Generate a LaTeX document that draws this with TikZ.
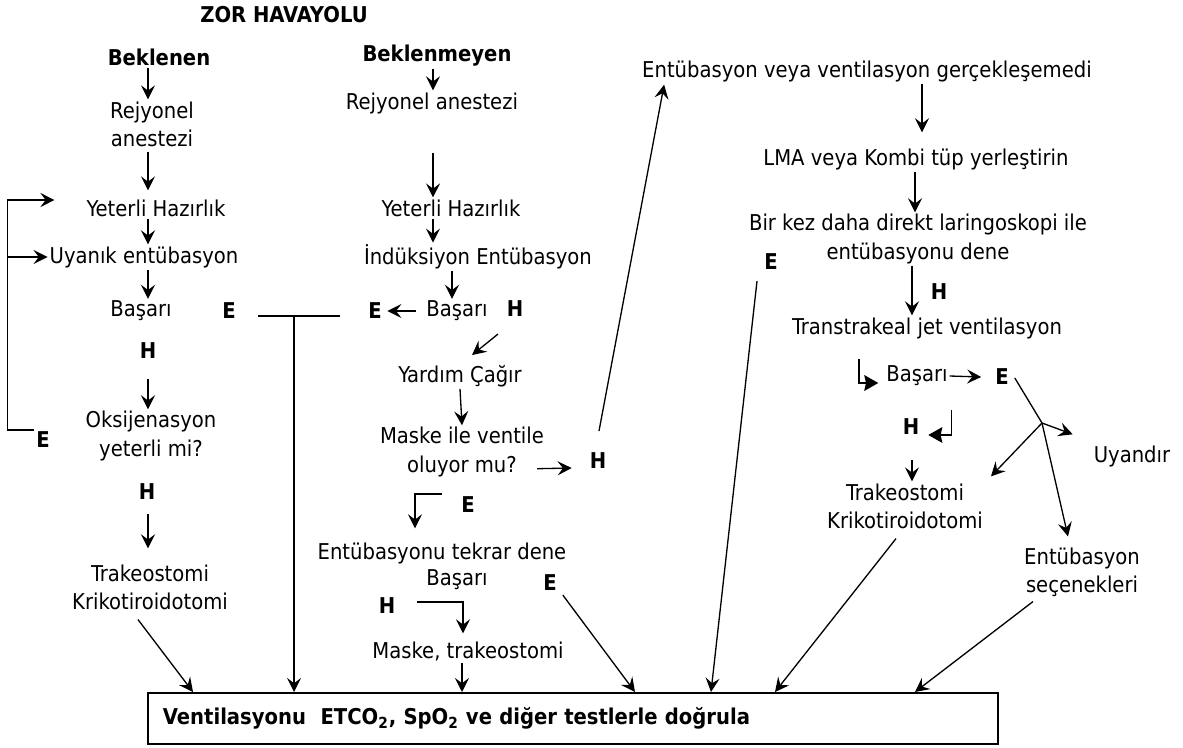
\documentclass[tikz,border=0pt]{standalone}
\usepackage{fontspec}
\setmainfont{DejaVu Sans Condensed}
\usetikzlibrary{arrows.meta, calc}

\begin{document}
\begin{tikzpicture}[
  x=0.02cm, y=-0.02cm,
  every node/.style={font=\fontsize{12.4}{16}\selectfont, inner sep=1pt},
  txt/.style={align=center},
  yn/.style={font=\fontsize{12.4}{16}\selectfont\bfseries},
  arr/.style={-{Stealth[length=8pt, width=8pt, inset=3pt]}, line width=0.75pt},
  arrbig/.style={-{Stealth[length=8pt, width=9pt, inset=1pt]}, line width=0.8pt},
  lin/.style={line width=0.75pt}
]
\useasboundingbox (0,0) rectangle (1183,747);

%% ---- COLUMNS (x of the vertical arrows) ------------------------
\coordinate (colA) at (148,0);
\coordinate (colB) at (433,0);
\coordinate (colC) at (452,0);
\coordinate (colD) at (462,0);
\coordinate (colE) at (922,0);
\coordinate (colF) at (915,0);
\coordinate (colG) at (912,0);

%% ---- HEADINGS ---------------------------------------------------
\node[yn] (title) at (284,15) {ZOR HAVAYOLU};
\node[yn] (bek)   at (159,57) {Beklenen};
\node[yn] (bekm)  at (437,56) {Beklenmeyen};

%% ---- BEKLENEN ---------------------------------------------------
\node[txt] (rejA)  at (152,124) {Rejyonel\\anestezi};
\node      (yetA)  at (156,208) {Yeterli Hazırlık};
\node      (uyan)  at (144,257) {Uyanık entübasyon};
\node      (basA)  at (141,311) {Başarı};
\node[yn]  (eA)    at (229,311) {E};
\node[yn]  (hA)    at (148,351) {H};
\node[txt] (oksi)  at (151,436) {Oksijenasyon\\yeterli mi?};
\node[yn]  (eLoop) at (43,440)  {E};
\node[yn]  (hA2)   at (147,492) {H};
\node[txt] (trakA) at (150,587) {Trakeostomi\\Krikotiroidotomi};

%% ---- BEKLENMEYEN ------------------------------------------------
\node[txt] (rejB)  at (432,103) {Rejyonel anestezi};
\node      (yetB)  at (451,208) {Yeterli Hazırlık};
\node      (indk)  at (478,257) {İndüksiyon Entübasyon};
\node      (basB)  at (457,311) {Başarı};
\node[yn]  (eB)    at (375,311) {E};
\node[yn]  (hB)    at (515,309) {H};
\node      (yard)  at (460,376) {Yardım Çağır};
\node[txt] (maske) at (462,452) {Maske ile ventile\\oluyor mu?};
\node[yn]  (hC)    at (598,461) {H};
\node[yn]  (eC)    at (468,505) {E};
\node      (tekr)  at (442,553) {Entübasyonu tekrar dene};
\node      (basC)  at (457,580) {Başarı};
\node[yn]  (eD)    at (550,583) {E};
\node[yn]  (hD)    at (387,606) {H};
\node      (mtrak) at (468,651) {Maske, trakeostomi};

%% ---- RIGHT BRANCH -----------------------------------------------
\node      (ent)   at (867,71)  {Entübasyon veya ventilasyon gerçekleşemedi};
\node      (lma)   at (916,159) {LMA veya Kombi tüp yerleştirin};
\node[txt] (bir)   at (918,239) {Bir kez daha direkt laringoskopi ile\\entübasyonu dene};
\node[yn]  (eE)    at (771,262) {E};
\node[yn]  (hE)    at (939,292) {H};
\node      (trans) at (927,328) {Transtrakeal jet ventilasyon};
\node      (basD)  at (917,376) {Başarı};
\node[yn]  (eF)    at (1002,377) {E};
\node[yn]  (hF)    at (911,427) {H};
\node[txt] (trakB) at (905,506) {Trakeostomi\\Krikotiroidotomi};
\node      (uyan2) at (1132,456) {Uyandır};
\node[txt] (secen) at (1082,572) {Entübasyon\\seçenekleri};
\coordinate (fork) at (1042,423);

%% ---- RESULT BOX -------------------------------------------------
\node[draw, line width=1.1pt, anchor=north west, text width=16.4cm,
      inner xsep=0.3cm, minimum height=1.02cm, align=left,
      font=\fontsize{12.4}{16}\selectfont\bfseries] (box) at (147,692)
  {Ventilasyonu\ \ ETCO\textsubscript{2}, SpO\textsubscript{2} ve diğer testlerle doğrula};

%% ---- arrows, left column
\draw[arr] (bek.south -| colA) -- (rejA.north -| colA);
\draw[arr, shorten <=2pt, shorten >=4pt] (rejA.south -| colA) -- (yetA.north -| colA);
\draw[arr] (yetA.south -| colA) -- (uyan.north -| colA);
\draw[arr] (uyan.south -| colA) -- (basA.north -| colA);
\draw[arr, shorten <=10pt] (hA.south -| colA) -- (oksi.north -| colA);
\draw[arr, shorten <=7pt, shorten >=8pt] (hA2.south -| colA) -- (trakA.north -| colA);
\draw[arr] ($(trakA.south)+(-12,8)$) -- ($(box.north west)+(46,0)$);

%% loop back from E
\draw[arr] (eLoop.north west) -- ++(-27,0) coordinate (lp)
  |- ($(yetA.west)+(-30,-8)$);
\draw[arr] (uyan.west -| lp) -- (uyan.west);

%% E (left) -> box
\draw[lin] ($(eA.east)+(20,5)$) -- coordinate[pos=0.44] (jA) ($(eB.west)+(-26,5)$);
\draw[arr] (jA) -- (jA |- box.north);

%% ---- arrows, middle column
\draw[arr] (bekm.south -| colB) -- (rejB.north -| colB);
\draw[arr, shorten <=21pt] (rejB.south -| colB) -- (yetB.north -| colB);
\draw[arr] (yetB.south -| colB) -- (indk.north -| colB);
\draw[arr] (indk.south -| colC) -- (basB.north -| colC);
\draw[arr, shorten <=5pt, shorten >=2pt] (basB.west) -- (eB.east);
\draw[arr] ($(hB.south)+(-17,15)$) -- ($(yard.north)+(12,-8)$);
\draw[arr] (yard.south) -- (maske.north);
\draw[arr] ($(maske.south east)+(-9,-10)$) -- ($(hC.west)+(-16,7)$);
\draw[arr] ($(hC.north)+(1,-20)$) -- ($(ent.south west)+(24,1)$);
\draw[arr] ($(eC.west)+(-17,-11)$) -| ($(tekr.north)+(-27,-12)$);
\draw[arr] ($(hD.east)+(20,-4)$) -| ($(mtrak.north)+(-5,-6)$);
\draw[arr] ($(eD.south east)+(4,2)$) -- ($(box.north west)+(488,0)$);
\draw[arr] (mtrak.south -| colD) -- (box.north -| colD);

%% ---- arrows, right branch
\draw[arr, shorten >=8pt] (ent.south -| colE) -- (lma.north -| colE);
\draw[arr] (lma.south -| colF) -- (bir.north -| colF);
\draw[arr] (bir.south -| colG) -- (trans.north -| colG);
\draw[arr] ($(eE.south)+(-14,9)$) -- ($(box.north west)+(564,0)$);
\draw[arrbig] ($(trans.south)+(-68,18)$) |- ($(basD.west)+(-6,7)$);
\draw[arr] (basD.east) -- ($(eF.west)+(-12,0)$);
\draw[arrbig] ($(hF.east)+(30,-17)$) |- ($(hF.east)+(7,8)$);
\draw[arr, shorten <=13pt] (hF.south -| colG) -- (trakB.north -| colG);
\draw[lin] ($(eF.east)+(4,1)$) -- (fork);
\draw[arr] (fork) -- ($(uyan2.north west)+(-19,-9)$);
\draw[arr] (fork) -- ($(trakB.north east)+(6,-5)$);
\draw[arr] (fork) -- ($(secen.north)+(-14,-9)$);
\draw[arr] ($(trakB.south)+(-9,8)$) -- ($(box.north west)+(628,0)$);
\draw[arr] ($(secen.south)+(-49,3)$) -- ($(box.north west)+(768,0)$);

\end{tikzpicture}
\end{document}
